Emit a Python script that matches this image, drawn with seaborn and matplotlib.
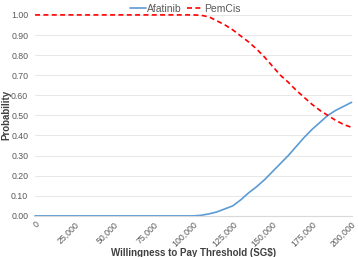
import pandas as pd
import numpy as np
import matplotlib.pyplot as plt
import seaborn as sns
from matplotlib.ticker import FuncFormatter, MultipleLocator

thresholds = list(range(0, 200001, 5000))
afatinib = [0.00] * 21 + [0.003, 0.01, 0.02, 0.035, 0.05, 0.08, 0.115, 0.145, 0.18, 0.22,
                          0.26, 0.30, 0.345, 0.39, 0.43, 0.465, 0.50, 0.525, 0.545, 0.565]
pemcis = [1.00] * 21 + [0.998, 0.99, 0.97, 0.95, 0.925, 0.895, 0.865, 0.83, 0.79, 0.745,
                        0.70, 0.665, 0.625, 0.59, 0.555, 0.525, 0.50, 0.475, 0.455, 0.44]

df = pd.DataFrame({"wtp": thresholds, "Afatinib": afatinib, "PemCis": pemcis})
df = df.melt(id_vars="wtp", var_name="arm", value_name="prob")

sns.set_style("white")
plt.rcParams["font.family"] = ["Liberation Sans", "DejaVu Sans"]

fig = plt.figure(figsize=(3.58, 2.57), dpi=100)
ax = fig.add_axes([0.098, 0.16, 0.884, 0.782])

sns.lineplot(data=df, x="wtp", y="prob", hue="arm", style="arm",
             palette={"Afatinib": "#5b9bd5", "PemCis": "#ff0000"},
             dashes={"Afatinib": "", "PemCis": (3, 2)},
             linewidth=1.2, ax=ax)
for ln in ax.get_lines():
    ln.set_clip_on(False)

ax.set_xlim(0, 200000)
ax.set_ylim(0, 1.0)
ax.xaxis.set_major_locator(MultipleLocator(25000))
ax.yaxis.set_major_locator(MultipleLocator(0.1))
ax.xaxis.set_major_formatter(FuncFormatter(lambda v, p: f"{int(v):,}"))
ax.yaxis.set_major_formatter(FuncFormatter(lambda v, p: f"{v:.2f}"))
ax.grid(axis="y", color="#e3e3e3", linewidth=0.6)
ax.set_axisbelow(True)
for s in ["top", "right", "left"]:
    ax.spines[s].set_visible(False)
ax.spines["bottom"].set_color("#d9d9d9")

ax.tick_params(axis="y", labelsize=6.3, colors="#595959", length=0, pad=5)
ax.tick_params(axis="x", labelsize=6.3, colors="#595959", length=0, pad=3)
plt.setp(ax.get_xticklabels(), rotation=45, ha="right", rotation_mode="anchor")

ax.set_xlabel("Willingness to Pay Threshold (SG$)", fontsize=7, fontweight="bold", color="#404040")
ax.xaxis.set_label_coords(0.5, -0.158)
ax.set_ylabel("Probability", fontsize=7, fontweight="bold", color="#404040")
ax.yaxis.set_label_coords(-0.074, 0.5)

leg = ax.legend(loc="lower center", bbox_to_anchor=(0.475, 0.985), ncol=2, frameon=False,
                fontsize=7.5, handlelength=1.5, columnspacing=0.5, borderaxespad=0, handletextpad=0.15)
for t in leg.get_texts():
    t.set_color("#595959")

fig.savefig("out.png", dpi=100)
